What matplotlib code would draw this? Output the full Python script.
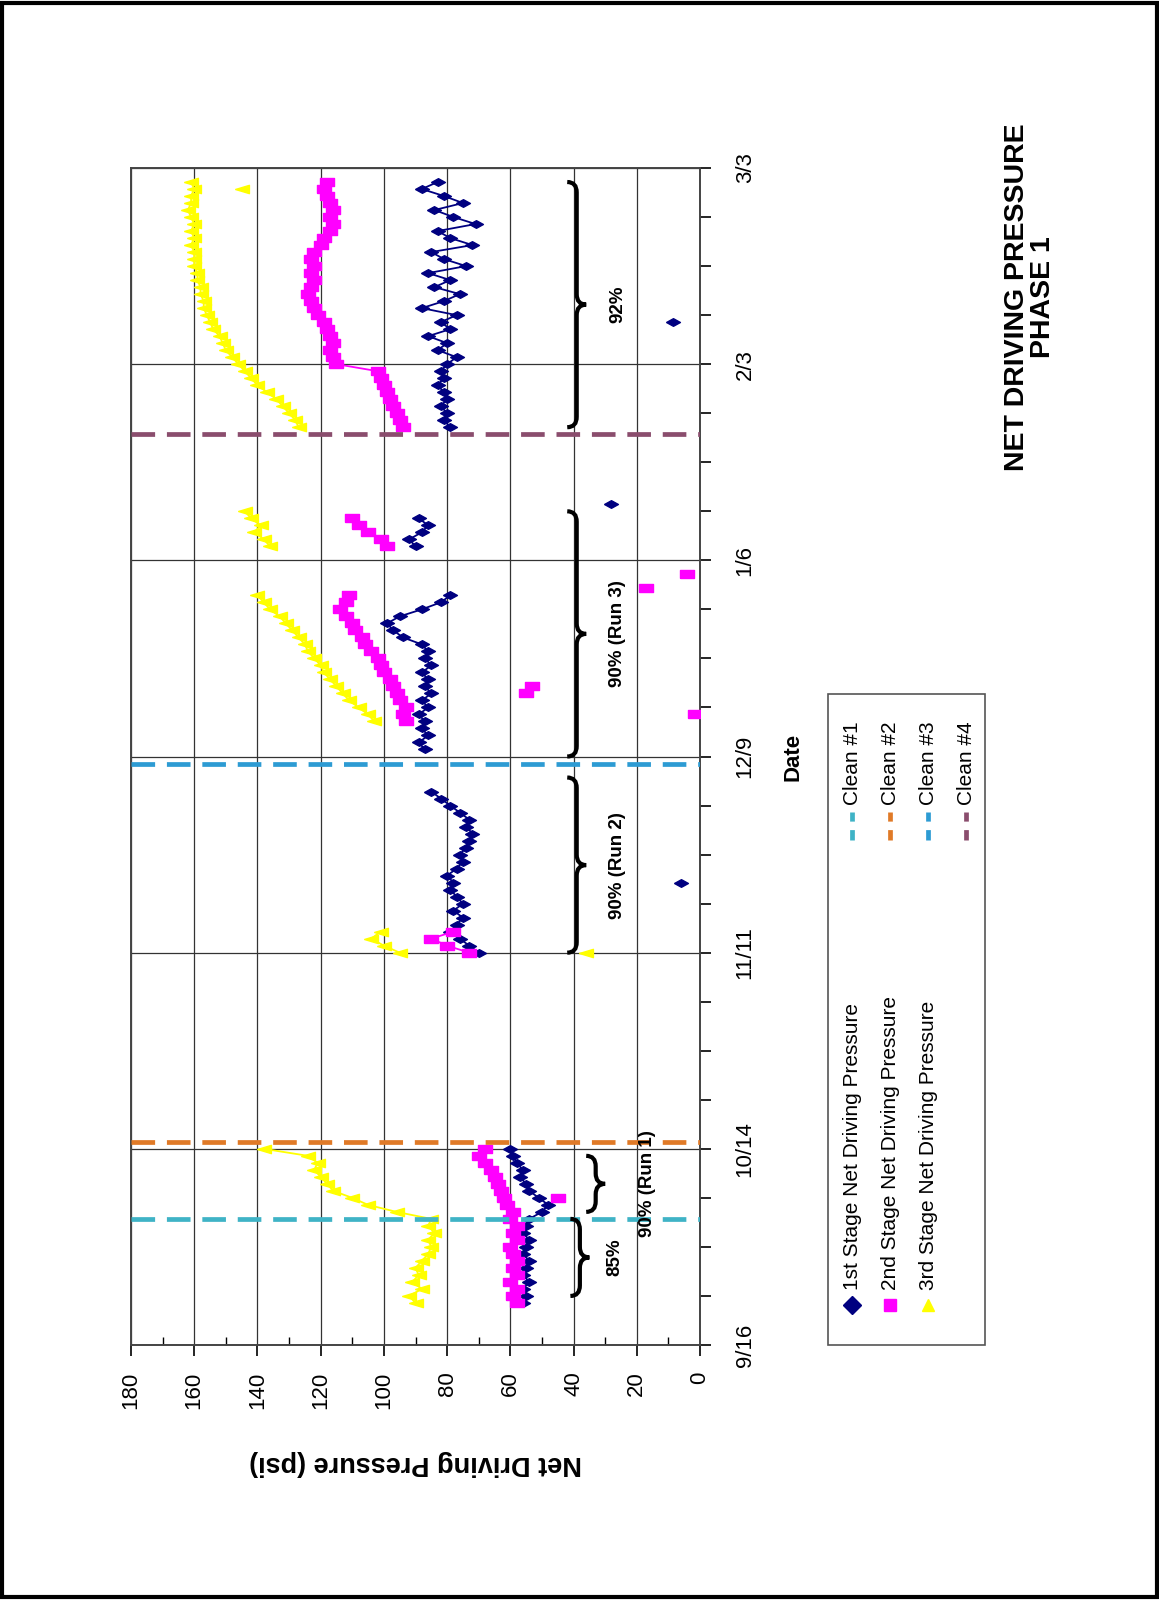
import matplotlib.pyplot as plt
import matplotlib.dates as mdates
import numpy as np
from datetime import date, timedelta
from matplotlib.patches import Rectangle, PathPatch
from matplotlib.path import Path
from matplotlib.lines import Line2D

plt.rcParams['font.family'] = ['Liberation Sans', 'DejaVu Sans']


def md(s):
    m, d = [int(v) for v in s.split('/')]
    return date(2002 if m >= 9 else 2003, m, d)


def daily(start, n):
    d0 = md(start)
    return [d0 + timedelta(days=i) for i in range(n)]


# 1st stage net driving pressure: (first day, daily readings) for each run
s1_runs = [
    ('9/22', [56, 55, 56, 54, 56, 55, 54, 56, 55, 54, 56, 55, 54, 50, 48, 51, 54, 55, 57, 56, 58, 59, 60]),
    ('11/11', [70, 73, 76, 79, 77, 75, 78, 75, 77, 79, 78, 80, 77, 75, 76, 74, 73, 72, 74, 73, 76, 79, 82, 85]),
    ('12/10', [87, 89, 86, 88, 87, 89, 86, 88, 85, 87, 86, 88, 85, 87, 86, 88, 94, 97, 99, 95, 88, 82, 79]),
    ('1/8', [90, 92, 88, 86, 89]),
    ('1/25', [79, 81, 80, 82, 80, 81, 83, 81, 82, 80, 77, 83, 80, 86, 79, 82, 77, 88, 81, 76, 84, 79, 86, 74,
              81, 85, 72, 79, 83, 71, 78, 84, 75, 81, 88, 83]),
]
s1_single = [('11/21', 6), ('1/14', 28), ('2/9', 8.5)]

# 2nd stage
s2_runs = [
    ('9/22', [58, 59, 58, 60, 58, 59, 58, 59, 60, 58, 59, 58, 60, 59, 61, 62, 63, 64, 65, 66, 68, 70, 68]),
    ('11/11', [73, 80, 85, 78]),
    ('12/14', [93, 94, 93, 95, 96, 97, 98, 100, 101, 102, 104, 106, 107, 109, 110, 112, 114, 112, 111]),
    ('12/18', [55, 53]),
    ('1/8', [99, 101, 105, 108, 110]),
    ('1/25', [94, 95, 96, 97, 98, 99, 100, 101, 102, 115, 116, 117, 116, 117, 118, 119, 121, 122, 123, 124,
              123, 122, 123, 122, 123, 122, 120, 119, 117, 116, 117, 116, 117, 118, 119, 118]),
]
s2_single = [('10/7', 45), ('12/15', 1.5), ('1/2', 17), ('1/4', 4)]

# 3rd stage
s3_runs = [
    ('9/22', [90, 92, 88, 91, 89, 90, 88, 86, 85, 86, 84, 86, 85, 96, 105, 110, 116, 118, 120, 122, 121, 124,
              138]),
    ('11/11', [95, 100, 104, 101]),
    ('12/14', [103, 105, 108, 111, 113, 115, 117, 119, 120, 122, 124, 125, 127, 129, 131, 133, 136, 138, 140]),
    ('1/8', [136, 138, 141, 139, 142, 144]),
    ('1/25', [127, 128, 130, 132, 134, 137, 140, 142, 144, 146, 148, 150, 151, 152, 154, 155, 156, 157, 157,
              158, 158, 159, 159, 160, 160, 160, 161, 160, 161, 160, 161, 162, 161, 161, 160, 161]),
]
s3_single = [('11/11', 36), ('2/28', 145)]

clean_dates = ['10/4', '10/15', '12/8', '1/24']
clean_names = ['Clean #1', 'Clean #2', 'Clean #3', 'Clean #4']
clean_colors = ['#3fb3c6', '#e07a27', '#2d9bd3', '#8a4d6d']

# recovery periods: start, end, label
brace_spans = [('9/23', '10/4', '85%'), ('10/5', '10/13', '90% (Run 1)'),
               ('11/11', '12/6', '90% (Run 2)'), ('12/9', '1/13', '90% (Run 3)'),
               ('1/25', '3/1', '92%')]
brace_base = [41, 36, 42, 42, 42]
label_pos = [27, 16.5, 26, 26, 26]

series_names = ['1st Stage Net Driving Pressure', '2nd Stage Net Driving Pressure',
                '3rd Stage Net Driving Pressure']
series_colors = ['#000080', '#ff00ff', '#ffff00']
series_markers = ['D', 's', '^']

# plot markers lie on their side and are squashed along the date axis
flat_markers = [
    Path([(-1, 0), (0, 0.55), (1, 0), (0, -0.55), (-1, 0)]),
    Path([(-1, -0.6), (1, -0.6), (1, 0.6), (-1, 0.6), (-1, -0.6)]),
    Path([(-1, 0), (1, 0.6), (1, -0.6), (-1, 0)]),
]

W, H = 1159, 1600
fig = plt.figure(figsize=(W / 100, H / 100), dpi=100)

# page border
fig.add_artist(Rectangle((0.002, 0.002), 0.996, 0.996, transform=fig.transFigure,
                         fill=False, lw=3, ec='black'))

ax = fig.add_axes([131 / W, 1 - 1345 / H, (700 - 131) / W, (1345 - 168) / H])

for runs, singles, c, mk in zip([s1_runs, s2_runs, s3_runs], [s1_single, s2_single, s3_single],
                                series_colors, flat_markers):
    for start, vals in runs:
        ax.plot(vals, daily(start, len(vals)), ls='-', lw=1.3, marker=mk, ms=10, color=c, mec=c, zorder=3)
    ax.plot([v for _, v in singles], [md(d) for d, _ in singles], ls='none', marker=mk, ms=10,
            color=c, mec=c, zorder=3)

for d, c in zip(clean_dates, clean_colors):
    ax.axhline(md(d), color=c, lw=3.4, ls=(0, (5, 2.5)), zorder=4)

ax.set_xlim(180, 0)
ax.set_ylim(md('9/16'), md('3/3'))
ax.set_xticks(np.arange(0, 181, 20))
ax.set_xticks(np.arange(10, 180, 20), minor=True)
major_dates = [md('9/16') + timedelta(days=28 * i) for i in range(7)]
ax.set_yticks(major_dates)
ax.set_yticks([md('9/16') + timedelta(days=7 * i) for i in range(25)], minor=True)
ax.yaxis.set_major_formatter(plt.FuncFormatter(
    lambda v, p: '%d/%d' % (mdates.num2date(v).month, mdates.num2date(v).day)))
ax.yaxis.tick_right()

ax.grid(True, which='major', color='#333333', lw=0.9)
for sp in ax.spines.values():
    sp.set_color('#444444')
    sp.set_linewidth(1.4)

ax.tick_params(axis='x', which='major', direction='out', length=8, width=1.2, pad=11)
ax.tick_params(axis='x', which='minor', direction='in', length=6, width=1.0)
ax.tick_params(axis='y', which='both', direction='out', length=8, width=1.2, pad=17)
for lab in ax.get_xticklabels():
    lab.set_rotation(90)
    lab.set_fontsize(16)
    lab.set_va('top')
for lab in ax.get_yticklabels():
    lab.set_rotation(90)
    lab.set_fontsize(16)
    lab.set_va('center')

# braces marking the recovery periods
for (d0, d1, lab), p, lp in zip(brace_spans, brace_base, label_pos):
    y0 = mdates.date2num(md(d0))
    y1 = mdates.date2num(md(d1))
    ym = (y0 + y1) / 2
    w, h = 6, 1.5
    verts = [(p, y0), (p - w / 2, y0), (p - w / 2, y0 + h),
             (p - w / 2, ym - h), (p - w / 2, ym), (p - w, ym),
             (p - w / 2, ym), (p - w / 2, ym + h),
             (p - w / 2, y1 - h), (p - w / 2, y1), (p, y1)]
    codes = [Path.MOVETO, Path.CURVE3, Path.CURVE3, Path.LINETO, Path.CURVE3, Path.CURVE3,
             Path.CURVE3, Path.CURVE3, Path.LINETO, Path.CURVE3, Path.CURVE3]
    ax.add_patch(PathPatch(Path(verts, codes), fill=False, lw=3, ec='black', zorder=5))
    ax.text(lp, ym, lab, rotation=90, ha='center', va='center', fontsize=13.5,
            fontweight='bold', zorder=6)

ax.set_xlabel('Net Driving Pressure (psi)', fontsize=19.5, fontweight='bold', rotation=180, labelpad=30)
fig.text(793 / W, 1 - 757 / H, 'Date', rotation=90, ha='center', va='center', fontsize=16,
         fontweight='bold')

fig.text(1030 / W, 1 - 297 / H, 'NET DRIVING PRESSURE\nPHASE 1', rotation=90, ha='center', va='center',
         fontsize=20.5, fontweight='bold', multialignment='center', linespacing=0.95)

# legend box, drawn turned on its side like the rest of the chart
lx0, lx1, ly0, ly1 = 828, 985, 694, 1345
fig.add_artist(Rectangle((lx0 / W, 1 - ly1 / H), (lx1 - lx0) / W, (ly1 - ly0) / H,
                         transform=fig.transFigure, fill=True, fc='white', lw=1.2, ec='#555555'))
row_x = [852, 890, 928, 966]
for i in range(3):
    fig.add_artist(Line2D([row_x[i] / W], [1 - 1305 / H], marker=series_markers[i], ms=9,
                          color=series_colors[i], mec=series_colors[i], ls='none',
                          transform=fig.transFigure))
    fig.text(row_x[i] / W, 1 - 1290 / H, series_names[i], rotation=90, ha='center', va='bottom',
             fontsize=15)
for i in range(4):
    yy = 1 - 826 / H
    fig.add_artist(Line2D([row_x[i] / W, row_x[i] / W], [yy - 0.009, yy + 0.009], lw=3.4,
                          ls=(0, (2.2, 1.8)), color=clean_colors[i], transform=fig.transFigure))
    fig.text(row_x[i] / W, 1 - 805 / H, clean_names[i], rotation=90, ha='center', va='bottom',
             fontsize=15)

fig.savefig('out.png', dpi=100)
